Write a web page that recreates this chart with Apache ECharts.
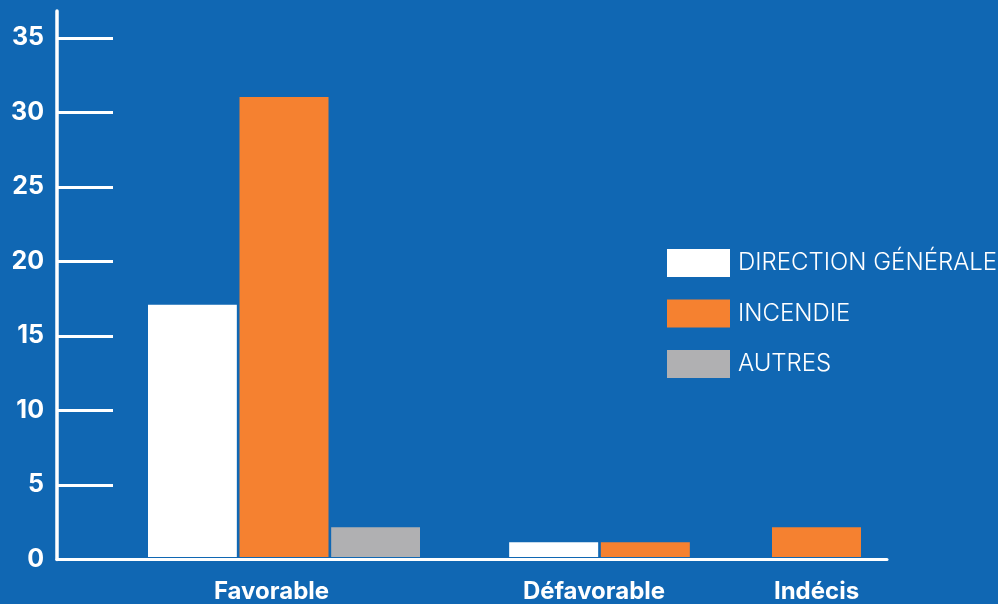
<!DOCTYPE html>
<html>
<head>
<meta charset="utf-8">
<script src="https://cdn.jsdelivr.net/npm/echarts@6/dist/echarts.min.js"></script>
<style>
  html, body { margin: 0; padding: 0; background: #1067b3; }
  #chart { width: 998px; height: 604px; }
</style>
</head>
<body>
<div id="chart"></div>
<script>
// Avis par service
const categories = ['Favorable', 'Défavorable', 'Indécis'];
const seriesNames = ['DIRECTION GÉNÉRALE', 'INCENDIE', 'AUTRES'];
const directionGenerale = [17, 1, null];
const incendie = [31, 1, 2];
const autres = [2, null, null];
const yTicks = [0, 5, 10, 15, 20, 25, 30, 35];

const colors = { 'DIRECTION GÉNÉRALE': '#ffffff', 'INCENDIE': '#f58130', 'AUTRES': '#b0b0b2' };
const valuesByName = { 'DIRECTION GÉNÉRALE': directionGenerale, 'INCENDIE': incendie, 'AUTRES': autres };

const FONT = 'Inter';
const Y_MAX = 36.8;
const TOP = 11, BOTTOM = 44.5;

// each category gets its own grid so that only present series take a slot
const groupGrids = [
  { left: 148, width: 272, labelShift: 25 },
  { left: 509, width: 181, labelShift: 11 },
  { left: 772, width: 89, labelShift: 0 }
];

const grid = [{ left: 57, right: 111, top: TOP, bottom: BOTTOM }];
const xAxis = [{
  gridIndex: 0, type: 'category', data: [''], z: 10,
  axisLine: { show: true, lineStyle: { color: '#ffffff', width: 3 } },
  axisTick: { show: false }, axisLabel: { show: false }
}];
const yAxis = [{
  gridIndex: 0, type: 'value', min: 0, max: Y_MAX, z: 10,
  axisLine: { show: true, lineStyle: { color: '#ffffff', width: 3.5 } },
  axisTick: { show: true, inside: true, length: 56, customValues: yTicks,
              lineStyle: { color: '#ffffff', width: 3 } },
  axisLabel: { show: true, customValues: yTicks, color: '#ffffff', fontFamily: FONT,
               fontWeight: 700, fontSize: 25, margin: 13 },
  splitLine: { show: false }
}];
const series = [];

categories.forEach((cat, i) => {
  const g = groupGrids[i];
  const gi = i + 1;
  grid.push({ left: g.left, width: g.width, top: TOP, bottom: BOTTOM });
  xAxis.push({
    gridIndex: gi, type: 'category', data: [cat],
    axisLine: { show: false }, axisTick: { show: false },
    axisLabel: { color: '#ffffff', fontFamily: FONT, fontWeight: 700, fontSize: 24,
                 margin: 23, padding: [0, g.labelShift, 0, 0] }
  });
  yAxis.push({ gridIndex: gi, type: 'value', min: 0, max: Y_MAX, show: false });
  seriesNames.forEach(name => {
    const v = valuesByName[name][i];
    if (v === null) return;
    series.push({
      name: name, type: 'bar', xAxisIndex: gi, yAxisIndex: gi,
      data: [v], barWidth: 89, barGap: '3%',
      itemStyle: { color: colors[name] }
    });
  });
});

const chart = echarts.init(document.getElementById('chart'));
chart.setOption({
  backgroundColor: '#1067b3',
  animation: false,
  grid: grid,
  xAxis: xAxis,
  yAxis: yAxis,
  legend: {
    data: seriesNames.map(n => ({ name: n, icon: 'rect', itemStyle: { color: colors[n] } })),
    orient: 'vertical', left: 667, top: 249, padding: 0,
    itemWidth: 63, itemHeight: 28, itemGap: 22.5,
    selectedMode: false,
    textStyle: { color: '#ffffff', fontFamily: FONT, fontWeight: 300, fontSize: 24,
                 padding: [0, 0, 0, 3] }
  },
  series: series
});
</script>
</body>
</html>
